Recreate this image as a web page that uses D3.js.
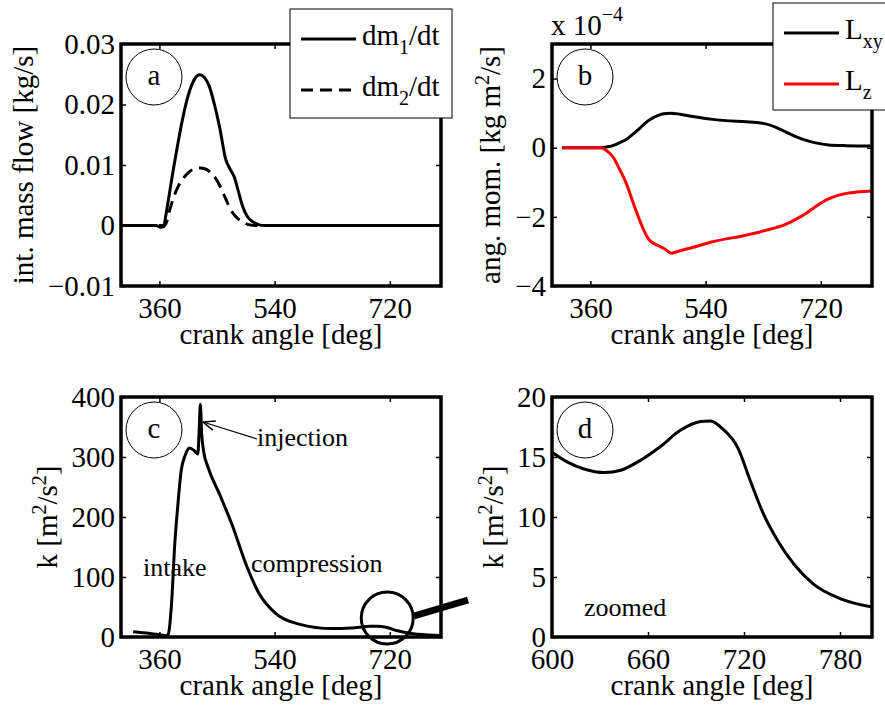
<!DOCTYPE html>
<html>
<head>
<meta charset="utf-8">
<script src="https://cdn.jsdelivr.net/npm/d3@7"></script>
<style>
  body { margin: 0; background: #fff; }
  svg { display: block; font-family: "Liberation Serif", "Times New Roman", serif; }
</style>
</head>
<body>
<svg id="fig" width="885" height="709"></svg>
<script>
// panel a: integrated mass flow [kg/s]
const massAngle = [300, 355, 362, 367, 369, 383, 397, 405, 415, 423, 430, 438, 446, 454, 464, 470, 477, 483, 490, 498, 506, 516, 524, 600, 700, 800];
const dm1 = [0, 0, -0.0003, -0.0002, 0.001, 0.010, 0.018, 0.0215, 0.0242, 0.0249, 0.0245, 0.0230, 0.0200, 0.0163, 0.0108, 0.0094, 0.0080, 0.0058, 0.0032, 0.0014, 0.0006, 0.0001, 0, 0, 0, 0];
const dm2Angle = [300, 367, 371, 376, 381, 390, 402, 413, 423, 433, 443, 449, 457, 464, 472, 480, 490, 501, 510, 600, 700, 800];
const dm2 = [0, 0, 0.0005, 0.0025, 0.0043, 0.0066, 0.0084, 0.0093, 0.0095, 0.0093, 0.0084, 0.0076, 0.0060, 0.0043, 0.0025, 0.0014, 0.0006, 0.0001, 0, 0, 0, 0];

// panel b: angular momentum [x 1e-4 kg m^2/s]
const momAngle = [316, 375, 385, 395, 405, 416, 427, 437, 445, 452, 468, 478, 486, 500, 515, 551, 603, 620, 634, 650, 665, 680, 696, 712, 732, 760, 800];
const Lxy = [0, 0, 0.02, 0.06, 0.14, 0.24, 0.40, 0.56, 0.70, 0.80, 0.95, 0.99, 1.0, 0.97, 0.92, 0.82, 0.75, 0.73, 0.69, 0.59, 0.46, 0.33, 0.22, 0.14, 0.08, 0.06, 0.05];
const Lz = [0, 0, -0.08, -0.26, -0.6, -1.03, -1.6, -2.1, -2.45, -2.67, -2.85, -2.95, -3.05, -2.98, -2.91, -2.72, -2.53, -2.46, -2.39, -2.31, -2.22, -2.08, -1.91, -1.70, -1.48, -1.32, -1.25];

// panel c: turbulent kinetic energy [m^2/s^2]
const kAngle = [319, 345, 366, 371, 374, 379, 384, 389, 394, 400, 407, 415, 420, 422, 424, 426, 429, 436, 454, 475, 495, 516, 542, 578, 630, 660, 690, 700, 716, 732, 751, 780, 800];
const kVal = [8.8, 6, 3, 2, 5, 56, 155, 222, 277, 302, 315, 310, 305, 340, 388, 340, 310, 283, 238, 183, 122, 72, 39, 21.5, 14, 15.2, 17.8, 18, 15.8, 10.3, 6.1, 3.2, 2.5];

// panel d: zoomed k
const zoomAngle = [600, 610, 620, 633, 643, 655, 668, 680, 693, 699, 707, 716, 724, 732, 741, 751, 763, 780, 800];
const zoomVal = [15.4, 14.55, 14.0, 13.7, 13.9, 14.7, 15.9, 17.2, 17.95, 18.0, 17.3, 15.8, 13.0, 10.3, 8.05, 6.1, 4.45, 3.2, 2.5];

const crankTicks = [360, 540, 720];
const zoomTicks = [600, 660, 720, 780];

const svg = d3.select('#fig');
const FS = 29;

function makePanel(opt) {
    const x = d3.scaleLinear().domain(opt.xDomain).range([opt.left, opt.right]);
    const y = d3.scaleLinear().domain(opt.yDomain).range([opt.bottom, opt.top]);
    const g = svg.append('g');

    const styleAxis = sel => {
        sel.attr('font-size', null).attr('font-family', null);
        sel.select('.domain').remove();
        sel.selectAll('.tick line').attr('stroke', '#000').attr('stroke-width', 1.5);
        sel.selectAll('.tick text').attr('fill', '#000').style('font-size', FS + 'px');
    };

    g.append('g').attr('transform', `translate(0,${opt.bottom})`)
        .call(d3.axisBottom(x).tickValues(opt.xTicks).tickSize(-5).tickPadding(11).tickSizeOuter(0))
        .call(styleAxis);
    g.append('g').attr('transform', `translate(0,${opt.top})`)
        .call(d3.axisTop(x).tickValues(opt.xTicks).tickSize(-5).tickFormat('').tickSizeOuter(0))
        .call(styleAxis);
    g.append('g').attr('transform', `translate(${opt.left},0)`)
        .call(d3.axisLeft(y).tickValues(opt.yTicks).tickSize(-5).tickPadding(6).tickFormat(opt.yFormat).tickSizeOuter(0))
        .call(styleAxis);
    g.append('g').attr('transform', `translate(${opt.right},0)`)
        .call(d3.axisRight(y).tickValues(opt.yTicks).tickSize(-5).tickFormat('').tickSizeOuter(0))
        .call(styleAxis);

    // x label
    g.append('text')
        .attr('x', (opt.left + opt.right) / 2)
        .attr('y', opt.bottom + 58)
        .attr('text-anchor', 'middle')
        .style('font-size', FS + 'px')
        .text('crank angle [deg]');

    // y label (rotated)
    const yl = g.append('text')
        .attr('transform', `translate(${opt.yLabelX},${(opt.top + opt.bottom) / 2}) rotate(-90)`)
        .attr('text-anchor', 'middle')
        .style('font-size', FS + 'px');
    opt.yLabel.forEach(part => {
        yl.append('tspan')
            .attr('dy', part.dy || 0)
            .style('font-size', (part.small ? 20 : FS) + 'px')
            .text(part.t);
    });

    return { g, x, y };
}

function drawLine(p, xs, ys, color, dash) {
    const line = d3.line()
        .x((d, i) => p.x(xs[i]))
        .y(d => p.y(d))
        .curve(d3.curveMonotoneX);
    p.g.append('path')
        .datum(ys)
        .attr('d', line)
        .attr('fill', 'none')
        .attr('stroke', color)
        .attr('stroke-width', 3)
        .attr('stroke-linejoin', 'round')
        .attr('stroke-dasharray', dash || null);
}

function drawBox(p, opt, letter) {
    p.g.append('rect')
        .attr('x', opt.left).attr('y', opt.top)
        .attr('width', opt.right - opt.left).attr('height', opt.bottom - opt.top)
        .attr('fill', 'none').attr('stroke', '#000').attr('stroke-width', 3.5);
    p.g.append('circle')
        .attr('cx', opt.left + 33).attr('cy', opt.top + 33).attr('r', 28)
        .attr('fill', 'none').attr('stroke', '#000').attr('stroke-width', 1);
    p.g.append('text')
        .attr('x', opt.left + 33).attr('y', opt.top + 41)
        .attr('text-anchor', 'middle')
        .style('font-size', FS + 'px')
        .text(letter);
}

function legend(lx, ly, w, h, items) {
    const lg = svg.append('g');
    lg.append('rect').attr('x', lx).attr('y', ly).attr('width', w).attr('height', h)
        .attr('fill', '#fff').attr('stroke', '#000').attr('stroke-width', 1);
    items.forEach((it, i) => {
        const yy = ly + 30 + i * 51;
        lg.append('line')
            .attr('x1', lx + 11).attr('x2', lx + 66).attr('y1', yy).attr('y2', yy)
            .attr('stroke', it.color).attr('stroke-width', 3)
            .attr('stroke-dasharray', it.dash || null);
        const t = lg.append('text').attr('x', lx + 72).attr('y', yy + 6).style('font-size', FS + 'px');
        t.append('tspan').text(it.main);
        t.append('tspan').attr('dy', 9).style('font-size', '20px').text(it.sub);
        if (it.tail) t.append('tspan').attr('dy', -9).text(it.tail);
    });
}

// ---- panel a
const optA = {
    left: 121, right: 441, top: 44, bottom: 286,
    xDomain: [300, 800], yDomain: [-0.01, 0.03],
    xTicks: crankTicks, yTicks: [-0.01, 0, 0.01, 0.02, 0.03],
    yFormat: d => d === 0 ? '0' : d3.format('.2f')(d),
    yLabelX: 33,
    yLabel: [{ t: 'int. mass flow [kg/s]' }]
};
const pa = makePanel(optA);
drawLine(pa, dm2Angle, dm2, '#000', '12,7');
drawLine(pa, massAngle, dm1, '#000');
drawBox(pa, optA, 'a');
legend(290, 9, 162, 109, [
    { main: 'dm', sub: '1', tail: '/dt', color: '#000' },
    { main: 'dm', sub: '2', tail: '/dt', color: '#000', dash: '12,7' }
]);

// ---- panel b
const optB = {
    left: 552, right: 872, top: 44, bottom: 286,
    xDomain: [300, 800], yDomain: [-4, 3],
    xTicks: crankTicks, yTicks: [-4, -2, 0, 2],
    yFormat: d3.format('d'),
    yLabelX: 500,
    yLabel: [{ t: 'ang. mom. [kg m' }, { t: '2', small: true, dy: -11 }, { t: '/s]', dy: 11 }]
};
const pb = makePanel(optB);
drawLine(pb, momAngle, Lxy, '#000');
drawLine(pb, momAngle, Lz, '#f00');
drawBox(pb, optB, 'b');
const ex = svg.append('text').attr('x', 551).attr('y', 35).style('font-size', FS + 'px');
ex.append('tspan').text('x 10');
ex.append('tspan').attr('dy', -14).style('font-size', '20px').text('\u22124');
legend(773, 3, 130, 107, [
    { main: 'L', sub: 'xy', color: '#000' },
    { main: 'L', sub: 'z', color: '#f00' }
]);

// ---- panel c
const optC = {
    left: 121, right: 441, top: 397, bottom: 637,
    xDomain: [300, 800], yDomain: [0, 400],
    xTicks: crankTicks, yTicks: [0, 100, 200, 300, 400],
    yFormat: d3.format('d'),
    yLabelX: 57,
    yLabel: [{ t: 'k [m' }, { t: '2', small: true, dy: -11 }, { t: '/s', dy: 11 }, { t: '2', small: true, dy: -11 }, { t: ']', dy: 11 }]
};
const pc = makePanel(optC);
drawLine(pc, kAngle, kVal, '#000');
drawBox(pc, optC, 'c');
const annot = [
    { t: 'injection', x: 257, y: 446 },
    { t: 'intake', x: 143, y: 576 },
    { t: 'compression', x: 251, y: 572 }
];
pc.g.selectAll('text.annot').data(annot).enter().append('text')
    .attr('class', 'annot')
    .attr('x', d => d.x).attr('y', d => d.y)
    .style('font-size', '26px')
    .text(d => d.t);
svg.append('defs').append('marker')
    .attr('id', 'arrow').attr('viewBox', '0 0 10 10').attr('refX', 10).attr('refY', 5)
    .attr('markerWidth', 10).attr('markerHeight', 10).attr('orient', 'auto')
    .append('path').attr('d', 'M0,1 L10,5 L0,9').attr('fill', 'none').attr('stroke', '#000').attr('stroke-width', 1.2);
pc.g.append('line')
    .attr('x1', 257).attr('y1', 439).attr('x2', pc.x(428)).attr('y2', 422)
    .attr('stroke', '#000').attr('stroke-width', 1.2).attr('marker-end', 'url(#arrow)');
// zoom marker
pc.g.append('circle')
    .attr('cx', pc.x(716)).attr('cy', 618).attr('r', 26)
    .attr('fill', 'none').attr('stroke', '#000').attr('stroke-width', 3);
pc.g.append('line')
    .attr('x1', 414).attr('y1', 616).attr('x2', 468).attr('y2', 600)
    .attr('stroke', '#000').attr('stroke-width', 7);

// ---- panel d
const optD = {
    left: 552, right: 872, top: 397, bottom: 637,
    xDomain: [600, 800], yDomain: [0, 20],
    xTicks: zoomTicks, yTicks: [0, 5, 10, 15, 20],
    yFormat: d3.format('d'),
    yLabelX: 503,
    yLabel: [{ t: 'k [m' }, { t: '2', small: true, dy: -11 }, { t: '/s', dy: 11 }, { t: '2', small: true, dy: -11 }, { t: ']', dy: 11 }]
};
const pd = makePanel(optD);
drawLine(pd, zoomAngle, zoomVal, '#000');
drawBox(pd, optD, 'd');
pd.g.append('text').attr('x', 584).attr('y', 616).style('font-size', '26px').text('zoomed');
</script>
</body>
</html>
